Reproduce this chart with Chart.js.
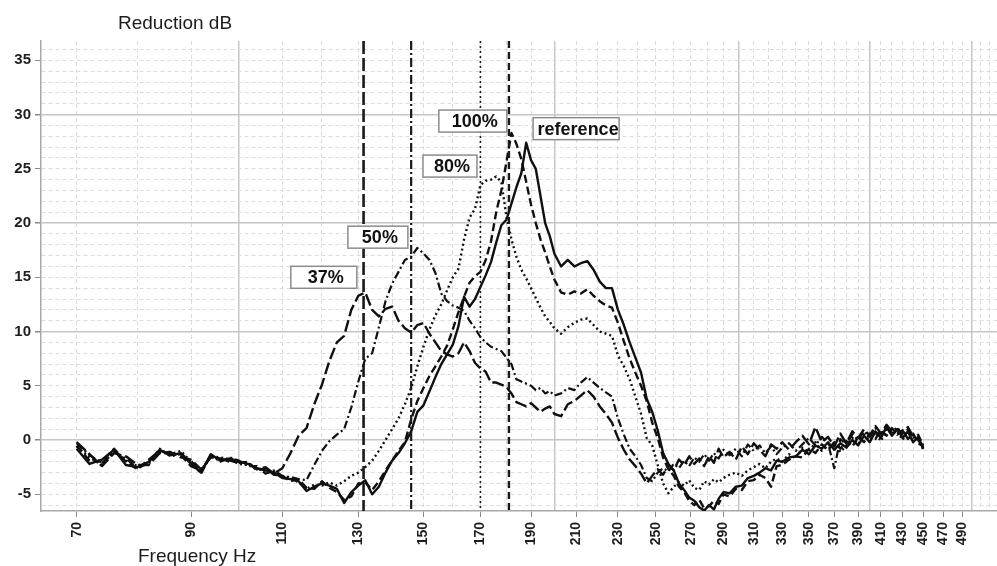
<!DOCTYPE html>
<html>
<head>
<meta charset="utf-8">
<script src="https://cdn.jsdelivr.net/npm/chart.js@4.4.0/dist/chart.umd.min.js"></script>
<style>
  html, body { margin: 0; padding: 0; background: #fff; }
</style>
</head>
<body>
<canvas id="myChart" width="997" height="566"></canvas>
<script>
// frequencies (Hz) shared by all curves
const freqs = [70,72,74,76,78,80,82,84,86,88,
  90,92,94,96,98,100,102,104,106,108,
  110,112,114,116,118,120,122,124,126,128,
  130,132,134,136,138,140,142,144,146,148,
  150,152,154,156,158,160,162,164,166,168,
  170,172,174,176,178,180,182,184,186,188,
  190,192,194,196,198,200,
  203,206,209,212,215,218,221,224,227,230,
  233,236,239,242,245,248,251,254,257,260,
  263,266,269,272,275,278,281,284,287,290,
  294,298,302,306,310,314,318,322,326,330,
  335,340,345,350,355,360,365,370,375,380,
  385,390,395,400,405,410,415,420,425,430,
  435,440,445,450];

// reduction dB per series
const reference = [-0.8,-2.2,-1.8,-0.9,-2.3,-2.5,-2.0,-0.9,-1.4,-1.2,
  -2.2,-3.0,-1.3,-1.9,-1.7,-2.0,-2.2,-2.6,-2.8,-3.0,
  -3.5,-3.6,-3.8,-4.7,-4.3,-4.0,-4.2,-4.5,-5.8,-4.8,
  -4.2,-3.7,-5.0,-4.3,-3.0,-1.9,-1.2,-0.3,0.8,2.6,
  3.2,4.5,5.8,7.0,7.9,8.8,10.5,13.2,12.3,13.0,
  14.1,15.2,16.4,18.2,19.8,20.3,21.8,23.3,24.6,27.4,
  25.8,25.0,22.5,20.0,18.8,17.2,
  16.0,16.6,16.0,16.3,16.5,15.7,14.6,14.0,14.0,12.0,
  10.6,9.0,7.6,6.2,3.8,2.6,0.9,-1.2,-2.2,-2.8,
  -4.0,-4.6,-5.3,-5.6,-6.2,-6.5,-6.0,-6.4,-5.4,-4.8,
  -4.9,-4.3,-4.2,-3.5,-3.3,-3.0,-2.6,-2.8,-1.9,-2.0,
  -1.6,-1.5,-0.9,-1.3,-0.5,-0.8,-0.2,-0.9,-0.3,-0.7,
  0.0,-0.5,0.4,-0.2,0.8,0.2,1.2,0.4,1.0,0.2,
  0.8,-0.2,0.3,-0.8];

const pct100 = [-0.5,-1.9,-2.0,-0.8,-2.0,-2.7,-1.8,-1.0,-1.2,-1.4,
  -2.4,-2.8,-1.5,-1.8,-1.9,-2.1,-2.0,-2.8,-2.6,-3.2,
  -3.3,-3.8,-3.6,-4.4,-4.5,-3.8,-4.4,-4.8,-5.5,-5.2,
  -4.0,-3.9,-4.6,-3.8,-2.8,-1.9,-1.0,-0.2,1.9,3.6,
  4.8,5.9,6.8,7.7,8.7,10.2,11.8,13.2,14.5,15.1,
  15.5,16.6,18.3,21.0,23.0,25.6,28.3,27.3,25.9,23.8,
  21.7,20.0,18.5,17.3,16.0,14.8,
  13.6,13.4,13.7,13.5,13.9,13.3,12.8,12.4,12.2,10.8,
  9.1,7.5,6.2,5.0,3.6,1.6,0.2,-1.6,-2.7,-3.3,
  -4.3,-4.8,-5.6,-6.0,-5.5,-6.3,-6.1,-5.6,-5.9,-5.0,
  -5.2,-4.5,-4.6,-3.8,-3.7,-3.2,-3.5,-4.3,-2.4,-2.3,
  -1.8,-1.5,-1.6,-0.8,-1.2,-0.4,-0.9,-0.2,-0.8,-0.1,
  -0.6,0.3,-0.2,0.6,0.1,0.9,0.4,1.1,0.5,0.9,
  0.1,0.6,-0.3,-0.6];

const pct80 = [-0.6,-1.6,-2.3,-1.0,-1.9,-2.4,-2.2,-1.1,-1.3,-1.0,
  -2.0,-2.9,-1.5,-1.6,-1.8,-2.2,-2.3,-2.5,-3.0,-2.9,
  -3.4,-3.5,-3.9,-4.5,-4.1,-4.2,-3.9,-4.2,-3.8,-3.3,
  -3.0,-2.5,-1.9,-1.0,0.0,1.0,2.0,3.3,4.8,6.8,
  8.6,10.2,11.5,12.5,13.8,15.0,15.8,18.5,20.5,21.3,
  23.5,23.9,24.0,24.3,23.8,20.6,18.5,16.9,15.7,14.9,
  14.0,13.1,12.2,11.4,10.9,10.3,
  9.8,10.4,10.8,11.1,11.2,10.6,10.0,9.8,9.6,7.8,
  6.8,5.6,4.0,2.4,0.2,-0.5,-2.3,-4.0,-4.9,-4.3,
  -3.9,-4.2,-3.7,-4.4,-4.6,-3.8,-4.1,-3.6,-3.9,-3.5,
  -3.2,-3.0,-3.3,-2.8,-2.5,-2.2,-2.6,-2.0,-1.7,-2.0,
  -1.3,-1.7,-0.7,-1.1,-0.2,-1.0,-0.5,-0.3,-1.1,-0.5,
  0.2,-0.4,0.5,0.0,0.7,-0.1,1.0,0.6,0.8,0.0,
  1.0,0.4,0.1,-0.9];

const pct50 = [-0.3,-1.4,-2.1,-1.1,-1.7,-2.6,-2.1,-0.8,-1.5,-1.3,
  -1.9,-3.1,-1.4,-2.0,-1.6,-1.9,-2.4,-2.4,-3.1,-2.8,
  -3.3,-3.4,-3.6,-3.7,-2.3,-1.0,-0.1,0.5,1.0,3.0,
  5.4,7.5,8.0,10.4,12.8,14.4,15.5,16.6,16.9,17.7,
  17.2,16.6,15.4,13.5,12.8,12.4,12.2,11.9,11.0,10.3,
  9.5,9.0,8.6,8.4,8.2,7.6,7.0,5.6,5.4,5.2,
  5.0,4.6,4.8,4.3,4.5,4.1,
  4.3,4.8,4.6,5.3,5.8,5.3,4.8,4.4,4.0,2.0,
  0.5,-0.8,-1.5,-2.3,-3.5,-3.8,-3.0,-2.6,-2.9,-2.2,
  -2.6,-1.9,-2.4,-1.6,-2.0,-1.3,-1.9,-1.2,-1.7,-0.9,
  -1.4,-0.8,-1.5,-0.4,-1.0,-0.5,-1.2,-0.6,-1.3,-0.7,
  -0.3,-1.0,-0.4,0.2,-0.5,0.3,-0.3,-2.6,0.1,-0.4,
  0.5,0.0,0.8,0.3,1.1,0.5,1.3,0.7,1.2,0.4,
  1.0,0.2,0.5,-0.5];

const pct37 = [-0.2,-1.3,-2.4,-1.2,-1.5,-2.3,-2.3,-1.2,-1.1,-1.6,
  -1.8,-2.7,-1.6,-1.7,-2.0,-2.0,-2.1,-2.7,-2.5,-3.1,
  -2.6,-1.2,0.4,1.1,3.3,5.1,7.3,9.0,9.6,12.0,
  13.3,13.6,12.0,11.4,12.1,12.3,11.0,10.3,9.9,10.6,
  10.8,9.8,9.0,8.2,7.9,7.7,8.0,9.0,8.2,7.1,
  6.6,6.3,5.3,5.3,5.1,4.9,4.3,3.5,3.3,3.1,
  3.4,3.0,2.6,2.9,3.1,2.4,
  2.2,3.3,3.6,4.1,4.6,4.0,3.1,2.4,1.6,0.2,
  -0.9,-1.8,-2.4,-3.1,-4.0,-3.3,-2.7,-3.2,-2.3,-2.8,
  -1.8,-2.3,-1.5,-2.2,-1.7,-2.4,-1.5,-2.1,-0.8,-1.6,
  -1.1,-1.8,-0.6,-1.3,-0.3,-0.9,-1.5,-0.4,-0.8,-0.2,
  -0.9,-0.2,0.4,-0.4,1.2,-0.2,0.3,-0.6,0.6,-0.3,
  0.8,0.2,1.0,0.4,1.3,0.6,1.4,0.8,1.0,0.6,
  1.2,0.3,0.0,-0.7];

// axis ticks
const xGridTicks = [70,80,90,100,110,120,130,140,150,160,170,180,190,200,210,220,230,240,250,260,
  270,280,290,300,310,320,330,340,350,360,370,380,390,400,410,420,430,440,450,460,470,480,490,500,510,520];
const xLabelTicks = [70,90,110,130,150,170,190,210,230,250,270,290,310,330,350,370,390,410,430,450,470,490];
const xMajorGrid = [100,200,300,400,500];
const yGridTicks = [-6,-5,-4,-3,-2,-1,0,1,2,3,4,5,6,7,8,9,10,11,12,13,14,15,16,17,18,19,20,
  21,22,23,24,25,26,27,28,29,30,31,32,33,34,35,36];
const yLabelTicks = [-5,0,5,10,15,20,25,30,35];
const yMajorGrid = [0,10,20,30];

// vertical marker lines (Hz) and the boxed labels
const markerFreqs = [131.5,146,170,181];
const labelTexts = ['37%','50%','80%','100%','reference'];
const labelFreqs = [120.5,135.7,159,167.2,209.8];
const labelDb = [15.0,18.7,25.25,29.4,28.7];

// styles
const FONT = "'Liberation Sans', Arial, Helvetica, sans-serif";
const ink = '#101010';
const markerDashes = [[13,4],[9,3,2,3],[2,3],[7,4]];
const markerWidths = [2.6,2.2,1.6,2.4];
const boxWidths = [66,60,54,68,86];

Chart.defaults.font.family = FONT;

const decorations = {
  id: 'decorations',
  afterDatasetsDraw(chart) {
    const { ctx, chartArea: area, scales: { x, y } } = chart;
    ctx.save();
    ctx.strokeStyle = '#1a1a1a';
    markerFreqs.forEach((f, i) => {
      const px = x.getPixelForValue(f);
      ctx.lineWidth = markerWidths[i];
      ctx.setLineDash(markerDashes[i]);
      ctx.beginPath();
      ctx.moveTo(px, area.top);
      ctx.lineTo(px, area.bottom);
      ctx.stroke();
    });
    ctx.setLineDash([]);
    ctx.font = 'bold 18px ' + FONT;
    ctx.textAlign = 'center';
    ctx.textBaseline = 'middle';
    labelTexts.forEach((t, i) => {
      const cx = x.getPixelForValue(labelFreqs[i]);
      const cy = y.getPixelForValue(labelDb[i]);
      const w = boxWidths[i], h = 22;
      ctx.fillStyle = '#fff';
      ctx.fillRect(cx - w / 2, cy - h / 2, w, h);
      ctx.strokeStyle = '#8c8c8c';
      ctx.lineWidth = 1.5;
      ctx.strokeRect(cx - w / 2, cy - h / 2, w, h);
      ctx.fillStyle = '#111';
      ctx.fillText(t, cx + 2, cy + 1);
    });
    ctx.restore();
  },
  afterDraw(chart) {
    const { ctx } = chart;
    ctx.save();
    ctx.fillStyle = '#1c1c1c';
    ctx.font = '19px ' + FONT;
    ctx.textAlign = 'left';
    ctx.textBaseline = 'alphabetic';
    ctx.fillText('Reduction dB', 118, 29);
    ctx.fillText('Frequency Hz', 138, 562);
    ctx.restore();
  }
};

function series(label, values, dash, width) {
  return {
    label,
    data: freqs.map((f, i) => ({ x: f, y: values[i] })),
    borderColor: ink,
    borderWidth: width,
    borderDash: dash,
    borderJoinStyle: 'round',
    pointRadius: 0,
    tension: 0,
    fill: false
  };
}

new Chart(document.getElementById('myChart').getContext('2d'), {
  type: 'line',
  data: {
    datasets: [
      series('37%', pct37, [12,4], 2.4),
      series('50%', pct50, [8,3,2,3], 2.2),
      series('80%', pct80, [2,3], 2.4),
      series('100%', pct100, [8,4], 2.4),
      series('reference', reference, [], 2.4)
    ]
  },
  options: {
    responsive: false,
    animation: false,
    layout: { padding: { top: 41, left: 0, right: 0, bottom: 0 } },
    plugins: { legend: { display: false }, tooltip: { enabled: false } },
    scales: {
      x: {
        type: 'logarithmic',
        min: 64.72,
        max: 529.1,
        afterBuildTicks: s => { s.ticks = xGridTicks.map(v => ({ value: v })); },
        afterFit: s => { s.height = 55; s.paddingLeft = 0; s.paddingRight = 0; },
        ticks: {
          autoSkip: false,
          minRotation: 90,
          maxRotation: 90,
          padding: 5,
          color: '#1e1e1e',
          font: { size: 14, weight: 'bold' },
          callback: v => xLabelTicks.includes(v) ? String(v) : ''
        },
        grid: {
          color: c => (c.tick && xMajorGrid.includes(c.tick.value)) ? '#c6c6c6' : '#dcdcdc',
          lineWidth: c => (c.tick && xMajorGrid.includes(c.tick.value)) ? 1.5 : 1,
          tickColor: c => (c.tick && xLabelTicks.includes(c.tick.value)) ? '#8a8a8a' : 'rgba(0,0,0,0)',
          tickLength: 6
        },
        border: {
          display: true,
          color: '#a8a8a8',
          width: 1.5,
          dash: c => (c.tick && !xMajorGrid.includes(c.tick.value)) ? [4,3] : []
        }
      },
      y: {
        min: -6.54,
        max: 36.78,
        afterBuildTicks: s => { s.ticks = yGridTicks.map(v => ({ value: v })); },
        afterFit: s => { s.width = 41; s.paddingTop = 0; s.paddingBottom = 0; },
        ticks: {
          autoSkip: false,
          padding: 4,
          color: '#1e1e1e',
          font: { size: 15, weight: 'bold' },
          callback: v => yLabelTicks.includes(v) ? String(v) : ''
        },
        grid: {
          color: c => (c.tick && yMajorGrid.includes(c.tick.value)) ? '#c6c6c6' : '#dcdcdc',
          lineWidth: c => (c.tick && yMajorGrid.includes(c.tick.value)) ? 1.5 : 1,
          tickColor: c => (c.tick && yLabelTicks.includes(c.tick.value)) ? '#8a8a8a' : 'rgba(0,0,0,0)',
          tickLength: 6
        },
        border: {
          display: true,
          color: '#a8a8a8',
          width: 1.5,
          dash: c => (c.tick && !yMajorGrid.includes(c.tick.value)) ? [4,3] : []
        }
      }
    }
  },
  plugins: [decorations]
});
</script>
</body>
</html>
